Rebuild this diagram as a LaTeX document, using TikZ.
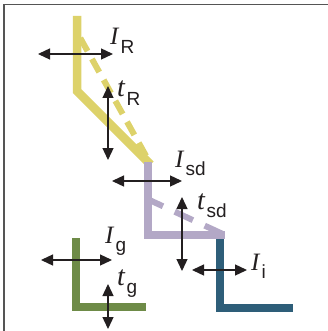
\documentclass[tikz,border=0pt]{standalone}
\usepackage{fontspec}
\setmainfont{Liberation Serif}
\setsansfont{Liberation Sans}
\usetikzlibrary{arrows.meta}
\definecolor{cyel}{HTML}{DDD26A}
\definecolor{cpur}{HTML}{B3A8C6}
\definecolor{cteal}{HTML}{2E5E79}
\definecolor{cgrn}{HTML}{6E8B47}
\definecolor{cframe}{HTML}{555555}
\definecolor{carr}{HTML}{231F20}
\newcommand\dimlab[3][25]{\fontsize{#1}{#1}\selectfont\textit{#2}\kern1pt\raisebox{-8.5pt}{\fontsize{19}{19}\selectfont\sffamily #3}}
\tikzset{
  layer/.style={line width=8.5pt, line cap=butt, line join=miter},
  dashlayer/.style={line width=6pt, line cap=butt},
  dimarrow/.style={draw=carr, line width=1.3pt, {Triangle[length=12pt,width=11pt]}-{Triangle[length=12pt,width=11pt]}},
  dimtext/.style={anchor=base west, inner sep=0pt, text=carr}
}
\begin{document}
\begin{tikzpicture}[x=1pt,y=-1pt]
\useasboundingbox (0,0) rectangle (328,331);
\fill[white] (0,0) rectangle (328,331);
% frame (left and top edges)
\draw[cframe, line width=1.6pt] (4,331) -- (4,4.5) -- (328,4.5);
% dashed layers
\draw[dashlayer, cyel, dash pattern=on 15pt off 9pt, dash phase=19.4pt] (78,34) -- (150,163);
\draw[dashlayer, cpur, dash pattern=on 20pt off 13pt, dash phase=1.3pt] (146,198.4) -- (224,234.6);
% solid layers
\draw[layer, cyel] (77,16) -- (77,91) -- (150.5,164.5);
\draw[layer, cpur] (148,162) -- (148,235) -- (225,235);
\draw[layer, cteal] (220,239.3) -- (220,308) -- (293,308);
\draw[layer, cgrn] (76,238) -- (76,307) -- (146,307);
% arrow end points
\coordinate (IRa) at (38,54);   \coordinate (IRb) at (113,54);
\coordinate (tRa) at (108,86);  \coordinate (tRb) at (108,160);
\coordinate (Isda) at (112,181); \coordinate (Isdb) at (182,181);
\coordinate (tsda) at (182,197); \coordinate (tsdb) at (182,271);
\coordinate (Iia) at (192,270); \coordinate (Iib) at (247,270);
\coordinate (Iga) at (41,260);  \coordinate (Igb) at (112,260);
\coordinate (tga) at (108,284); \coordinate (tgb) at (108,329);
\draw[dimarrow] (IRa) -- (IRb);
\draw[dimarrow] (tRa) -- (tRb);
\draw[dimarrow] (Isda) -- (Isdb);
\draw[dimarrow] (tsda) -- (tsdb);
\draw[dimarrow] (Iia) -- (Iib);
\draw[dimarrow] (Iga) -- (Igb);
\draw[dimarrow] (tga) -- (tgb);
% labels
\node[dimtext] (lIR) at (110,45) {\dimlab{I}{R}};
\node[dimtext] (ltR) at (117,97) {\dimlab[28]{t}{R}};
\node[dimtext] (lIsd) at (175,167) {\dimlab{I}{sd}};
\node[dimtext] (ltsd) at (197,209) {\dimlab[28]{t}{sd}};
\node[dimtext] (lIi) at (251,270) {\dimlab{I}{i}};
\node[dimtext] (lIg) at (105,243) {\dimlab{I}{g}};
\node[dimtext] (ltg) at (117,285) {\dimlab[28]{t}{g}};
\end{tikzpicture}
\end{document}
